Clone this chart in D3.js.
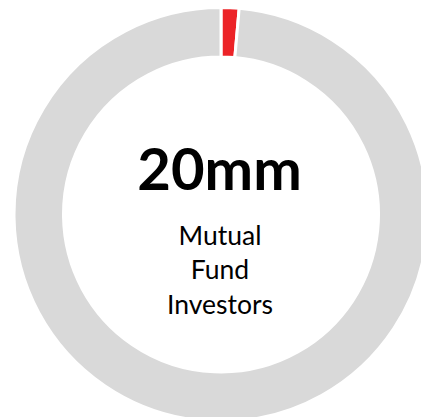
<!DOCTYPE html>
<html><head><meta charset="utf-8">
<script src="https://cdn.jsdelivr.net/npm/d3@7"></script>
<style>html,body{margin:0;padding:0;background:#fff;overflow:hidden}</style>
</head><body>
<svg id="c" width="421" height="417"></svg>
<script>
const categories = ["Mutual Fund Investors", "Other"];
const values = [1.4, 98.6];
const colors = ["#ec2327", "#d9d9d9"];
const headline = "20mm";
const labelLines = ["Mutual", "Fund", "Investors"];

const svg = d3.select("#c");
const cx = 221, cy = 214.5, rOuter = 207, rInner = 157.5;
const g = svg.append("g").attr("transform", `translate(${cx},${cy})`);
const pie = d3.pie().sort(null).value(d => d);
const arc = d3.arc().innerRadius(rInner).outerRadius(rOuter);
g.selectAll("path").data(pie(values)).join("path")
  .attr("d", arc)
  .attr("fill", (d, i) => colors[i])
  .attr("stroke", "#fff")
  .attr("stroke-width", 3);

const font = "Lato, 'Open Sans', sans-serif";
g.append("text").text(headline)
  .attr("x", -1.5).attr("y", 190 - cy)
  .attr("text-anchor", "middle")
  .attr("font-family", font).attr("font-weight", 700)
  .attr("font-size", 58).attr("fill", "#000");
const baselines = [245, 279, 314];
labelLines.forEach((t, i) => {
  g.append("text").text(t)
    .attr("x", -1).attr("y", baselines[i] - cy)
    .attr("text-anchor", "middle")
    .attr("font-family", font)
    .attr("font-size", 26.5).attr("fill", "#000");
});
</script>
</body></html>
